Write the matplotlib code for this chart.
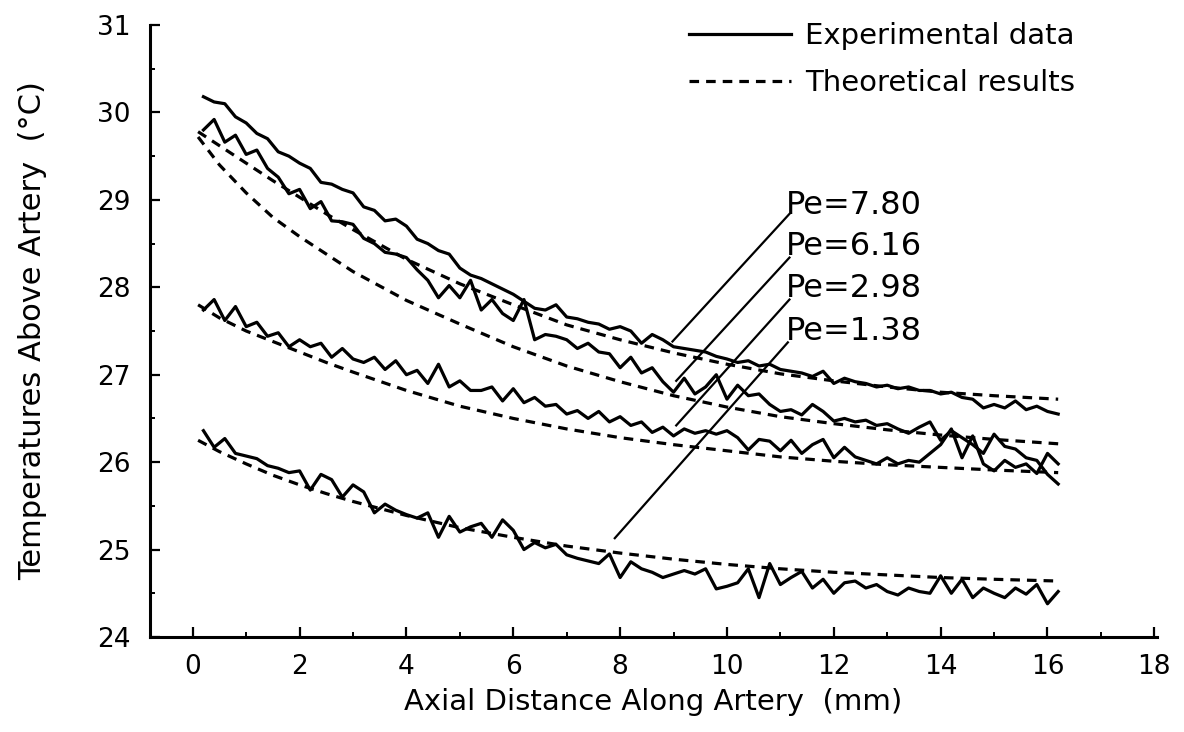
import matplotlib
matplotlib.use("Agg")
import matplotlib.pyplot as plt

# axial positions (mm) of the measured traces
exp_x = [0.2, 0.4, 0.6, 0.8, 1.0, 1.2, 1.4, 1.6, 1.8, 2.0,
         2.2, 2.4, 2.6, 2.8, 3.0, 3.2, 3.4, 3.6, 3.8, 4.0,
         4.2, 4.4, 4.6, 4.8, 5.0, 5.2, 5.4, 5.6, 5.8, 6.0,
         6.2, 6.4, 6.6, 6.8, 7.0, 7.2, 7.4, 7.6, 7.8, 8.0,
         8.2, 8.4, 8.6, 8.8, 9.0, 9.2, 9.4, 9.6, 9.8, 10.0,
         10.2, 10.4, 10.6, 10.8, 11.0, 11.2, 11.4, 11.6, 11.8, 12.0,
         12.2, 12.4, 12.6, 12.8, 13.0, 13.2, 13.4, 13.6, 13.8, 14.0,
         14.2, 14.4, 14.6, 14.8, 15.0, 15.2, 15.4, 15.6, 15.8, 16.0,
         16.2]

exp_pe780 = [30.18, 30.12, 30.10, 29.95, 29.88, 29.76, 29.70, 29.55, 29.50, 29.42,
             29.36, 29.20, 29.18, 29.12, 29.08, 28.92, 28.88, 28.76, 28.78, 28.70,
             28.55, 28.50, 28.42, 28.38, 28.22, 28.14, 28.10, 28.04, 27.98, 27.92,
             27.84, 27.76, 27.74, 27.80, 27.66, 27.64, 27.60, 27.58, 27.52, 27.55,
             27.50, 27.36, 27.46, 27.40, 27.32, 27.30, 27.28, 27.26, 27.21, 27.18,
             27.14, 27.16, 27.10, 27.12, 27.06, 27.04, 27.02, 26.98, 27.04, 26.90,
             26.96, 26.92, 26.90, 26.86, 26.88, 26.84, 26.86, 26.82, 26.82, 26.78,
             26.80, 26.74, 26.72, 26.62, 26.66, 26.62, 26.70, 26.60, 26.64, 26.58,
             26.55]

exp_pe616 = [29.80, 29.92, 29.66, 29.74, 29.52, 29.57, 29.36, 29.26, 29.07, 29.12,
             28.90, 28.98, 28.76, 28.75, 28.72, 28.56, 28.50, 28.40, 28.38, 28.34,
             28.20, 28.08, 27.88, 28.02, 27.88, 28.08, 27.74, 27.86, 27.70, 27.62,
             27.86, 27.40, 27.46, 27.44, 27.40, 27.30, 27.36, 27.26, 27.24, 27.08,
             27.20, 27.02, 27.08, 26.92, 26.80, 26.96, 26.78, 26.86, 27.00, 26.72,
             26.88, 26.76, 26.78, 26.66, 26.58, 26.60, 26.54, 26.66, 26.58, 26.47,
             26.50, 26.46, 26.48, 26.42, 26.44, 26.38, 26.33, 26.40, 26.46, 26.25,
             26.36, 26.28, 26.20, 26.10, 26.32, 26.18, 26.15, 26.05, 26.02, 25.86,
             25.75]

exp_pe298 = [27.74, 27.86, 27.62, 27.78, 27.55, 27.60, 27.44, 27.48, 27.32, 27.40,
             27.32, 27.36, 27.20, 27.30, 27.18, 27.14, 27.20, 27.06, 27.16, 27.00,
             27.05, 26.90, 27.12, 26.86, 26.93, 26.82, 26.82, 26.86, 26.70, 26.84,
             26.68, 26.74, 26.64, 26.66, 26.55, 26.59, 26.50, 26.58, 26.46, 26.52,
             26.42, 26.46, 26.34, 26.40, 26.30, 26.38, 26.33, 26.36, 26.32, 26.36,
             26.28, 26.14, 26.26, 26.24, 26.13, 26.25, 26.10, 26.20, 26.26, 26.05,
             26.17, 26.06, 26.02, 25.98, 26.05, 25.98, 26.02, 26.00, 26.10, 26.20,
             26.38, 26.05, 26.30, 25.98, 25.90, 26.02, 25.94, 25.98, 25.87, 26.10,
             25.98]

exp_pe138 = [26.36, 26.17, 26.27, 26.10, 26.07, 26.04, 25.96, 25.93, 25.88, 25.90,
             25.68, 25.86, 25.80, 25.60, 25.74, 25.66, 25.42, 25.52, 25.45, 25.40,
             25.36, 25.42, 25.14, 25.38, 25.20, 25.26, 25.30, 25.14, 25.34, 25.22,
             25.00, 25.08, 25.02, 25.06, 24.94, 24.90, 24.87, 24.84, 24.95, 24.68,
             24.86, 24.78, 24.74, 24.68, 24.72, 24.76, 24.72, 24.78, 24.55, 24.58,
             24.62, 24.78, 24.45, 24.84, 24.60, 24.68, 24.75, 24.56, 24.66, 24.50,
             24.62, 24.64, 24.56, 24.60, 24.52, 24.48, 24.56, 24.52, 24.50, 24.70,
             24.50, 24.66, 24.45, 24.56, 24.50, 24.45, 24.56, 24.49, 24.60, 24.38,
             24.52]

# theoretical curves
th_x = [0.1, 0.5, 1.0, 1.5, 2.0, 2.5, 3.0, 4.0, 5.0, 6.0, 7.0, 8.0,
        9.0, 10.0, 11.0, 12.0, 13.0, 14.0, 15.0, 16.2]
th_pe780 = [29.78, 29.62, 29.42, 29.22, 29.03, 28.84, 28.66, 28.32, 28.04, 27.80,
            27.57, 27.40, 27.25, 27.12, 27.01, 26.93, 26.86, 26.80, 26.76, 26.72]
th_pe616 = [29.72, 29.40, 29.08, 28.80, 28.58, 28.38, 28.18, 27.85, 27.58, 27.32,
            27.10, 26.92, 26.76, 26.63, 26.52, 26.44, 26.37, 26.31, 26.26, 26.21]
th_pe298 = [27.80, 27.65, 27.50, 27.38, 27.26, 27.14, 27.03, 26.82, 26.64, 26.50,
            26.38, 26.28, 26.20, 26.13, 26.06, 26.01, 25.97, 25.94, 25.91, 25.88]
th_pe138 = [26.25, 26.12, 25.98, 25.85, 25.74, 25.64, 25.55, 25.39, 25.25, 25.14,
            25.04, 24.96, 24.89, 24.83, 24.78, 24.74, 24.71, 24.68, 24.66, 24.64]

# Peclet labels: text, text anchor (x, y), leader line start and end
pe_labels = ["Pe=7.80", "Pe=6.16", "Pe=2.98", "Pe=1.38"]
label_xy = [(11.1, 28.94), (11.1, 28.47), (11.1, 27.99), (11.1, 27.50)]
leader_from = [(11.17, 28.84), (11.17, 28.34), (11.17, 27.86), (11.14, 27.37)]
leader_to = [(8.98, 27.38), (9.05, 26.93), (9.05, 26.42), (7.90, 25.13)]

x_ticks = [0, 2, 4, 6, 8, 10, 12, 14, 16, 18]
y_ticks = [24, 25, 26, 27, 28, 29, 30, 31]

fig = plt.figure(figsize=(11.84, 7.32), dpi=100)
ax = fig.add_axes([0.1267, 0.1298, 0.8505, 0.836])

lw = 2.3
dash = (0, (3, 2.2))
for ys in [exp_pe780, exp_pe616, exp_pe298, exp_pe138]:
    ax.plot(exp_x, ys, color="black", lw=lw)
for ys in [th_pe780, th_pe616, th_pe298, th_pe138]:
    ax.plot(th_x, ys, color="black", lw=lw, linestyle=dash)

for lab, xy, p0, p1 in zip(pe_labels, label_xy, leader_from, leader_to):
    ax.text(xy[0], xy[1], lab, fontsize=23, va="center", ha="left")
    ax.plot([p0[0], p1[0]], [p0[1], p1[1]], color="black", lw=1.6)

# legend
h1, = ax.plot([], [], color="black", lw=lw)
h2, = ax.plot([], [], color="black", lw=lw, linestyle=dash)
ax.legend([h1, h2], ["Experimental data", "Theoretical results"],
          loc="upper left", bbox_to_anchor=(0.535, 1.005), frameon=False,
          fontsize=21, handlelength=3.5, handletextpad=0.5,
          labelspacing=0.65, borderpad=0, borderaxespad=0)

ax.set_xlim(-0.8, 18.05)
ax.set_ylim(24, 31)
ax.set_xticks(x_ticks)
ax.set_yticks(y_ticks)
ax.set_xticks([1, 3, 5, 7, 9, 11, 13, 15, 17], minor=True)
ax.set_yticks([24.5, 25.5, 26.5, 27.5, 28.5, 29.5, 30.5], minor=True)
ax.tick_params(which="major", direction="in", length=7, width=1.6,
               labelsize=19, pad=12)
ax.tick_params(axis="y", which="major", pad=14)
ax.tick_params(which="minor", direction="in", length=3.5, width=1.4)

for s in ["top", "right"]:
    ax.spines[s].set_visible(False)
for s in ["left", "bottom"]:
    ax.spines[s].set_linewidth(2.2)

ax.set_xlabel("Axial Distance Along Artery  (mm)", fontsize=21, labelpad=6)
ax.set_ylabel("Temperatures Above Artery  (°C)", fontsize=22, labelpad=36)

fig.savefig("out.png", dpi=100)
